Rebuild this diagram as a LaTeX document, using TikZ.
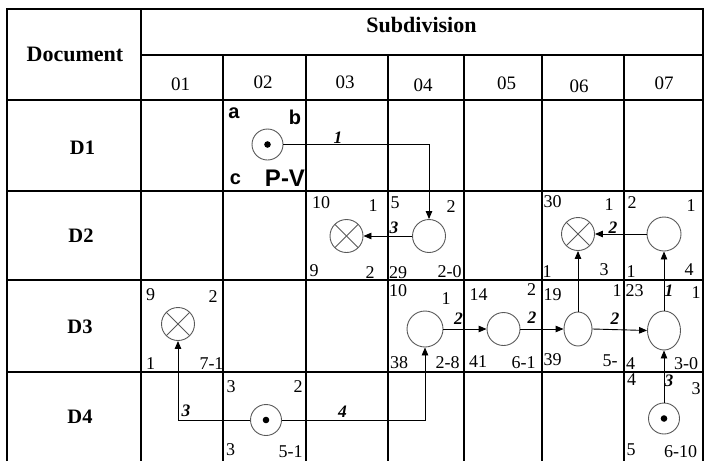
\documentclass[tikz,border=0pt]{standalone}
\usepackage{fontspec}
\setmainfont{Liberation Serif}
\newfontfamily\sansbf{Liberation Sans}
\usetikzlibrary{arrows.meta,shapes.geometric}
\tikzset{
  gridline/.style={line width=1.1pt, black},
  hdr/.style={font=\fontsize{22}{24}\selectfont\bfseries, inner sep=0pt},
  rowlab/.style={font=\fontsize{20.5}{22}\selectfont\bfseries, inner sep=0pt},
  colnum/.style={font=\fontsize{19}{21}\selectfont, inner sep=0pt},
  num/.style={font=\fontsize{18}{19}\selectfont, inner sep=0pt},
  lab/.style={font=\fontsize{17.5}{19}\selectfont\bfseries\itshape, inner sep=0pt},
  sl/.style={font=\fontsize{20}{22}\selectfont\sansbf\bfseries, inner sep=0pt},
  ev/.style={ellipse, draw=black!65, line width=0.9pt, inner sep=0pt, minimum width=33pt, minimum height=33pt},
  xev/.style={ev, path picture={
      \draw[black!65, line width=0.9pt] (path picture bounding box.south west) -- (path picture bounding box.north east);
      \draw[black!65, line width=0.9pt] (path picture bounding box.north west) -- (path picture bounding box.south east);}},
  sev/.style={ev, minimum width=31pt, minimum height=31pt, path picture={
      \fill[black] (path picture bounding box.center) circle (3.3pt);}},
  arr/.style={-{Triangle[length=8pt,width=6.5pt]}, line width=0.9pt, black}
}
\begin{document}
\begin{tikzpicture}[x=1pt,y=-1pt]
\useasboundingbox (0,0) rectangle (704,461);
\clip (0,0) rectangle (704,461);
% grid
\draw[gridline] (7,461) -- (7,9) -- (703,9) -- (703,461);
\draw[gridline] (141,9) -- (141,461);
\draw[gridline] (141,55) -- (703,55);
\foreach \yy in {100,191,280,372} \draw[gridline] (7,\yy) -- (703,\yy);
\foreach \xx in {223,306,388,464,542,624} \draw[gridline] (\xx,55) -- (\xx,461);
% headers
\node[hdr] (hdoc) at (75,54.5) {Document};
\node[hdr] (hsub) at (421.5,24.5) {Subdivision};
\node[colnum] (c01) at (180.5,84.5) {01};
\node[colnum] (c02) at (263,82.5) {02};
\node[colnum] (c03) at (345,82.5) {03};
\node[colnum] (c04) at (423,85) {04};
\node[colnum] (c05) at (506.5,83.5) {05};
\node[colnum] (c06) at (579,86.5) {06};
\node[colnum] (c07) at (664,83) {07};
\node[rowlab] (r1) at (82.5,148) {D1};
\node[rowlab] (r2) at (81,235.5) {D2};
\node[rowlab] (r3) at (80,327) {D3};
\node[rowlab] (r4) at (80,417) {D4};
% D1 / 02 legend cell
\node[sl] (la) at (234,113.5) {a};
\node[sl] (lb) at (295,117) {b};
\node[sl] (lc) at (235.5,179) {c};
\node[sl, font=\fontsize{24}{26}\selectfont\sansbf\bfseries] (lpv) at (285,178.5) {P-V};
\node[sev] (s12) at (267.5,144.5) {};
% D2 events
\node[xev] (x23) at (346.5,236) {};
\node[ev] (e24) at (429,236) {};
\node[xev] (x26) at (578,234) {};
\node[ev, minimum width=34pt, minimum height=34pt] (e27) at (664,234) {};
% D3 events
\node[xev] (x31) at (178,324) {};
\node[ev, minimum width=36pt, minimum height=36pt] (e34) at (425,329) {};
\node[ev, minimum width=33pt, minimum height=33pt] (e35) at (503.5,329) {};
\node[ev, minimum width=28pt, minimum height=34pt] (e36) at (578,329) {};
\node[ev, minimum width=33pt, minimum height=39pt] (e37) at (664,330.5) {};
% D4 events
\node[sev] (s42) at (266,420) {};
\node[sev] (s47) at (664,418.5) {};
% connectors
\draw[arr] (s12.east) -| (e24.north);
\draw[arr] (e24.west) -- (x23.east);
\draw[arr] (e27.west) -- (x26.east);
\draw[arr] (e36.north) -- (x26.south);
\draw[arr] (e37.north) -- (e27.south);
\draw[arr] (e34.east) -- (e35.west);
\draw[arr] (e35.east) -- (e36.west);
\draw[arr] (e36.east) -- (e37.west);
\draw[arr] (s42.west) -| (x31.south);
\draw[arr] (s42.east) -| (e34.south);
\draw[arr] (s47.north) -- (e37.south);
% connector labels
\node[lab] (l1) at (338,137.5) {1};
\node[lab] (l2) at (394,228) {3};
\node[lab] (l3) at (613,227.5) {2};
\node[lab] (l4) at (458.5,319) {2};
\node[lab] (l5) at (532,317.5) {2};
\node[lab] (l6) at (615,319) {2};
\node[lab] (l7) at (669,291) {1};
\node[lab] (l8) at (186,411) {3};
\node[lab] (l9) at (342.5,412) {4};
\node[lab] (l10) at (669,381) {3};
% corner numbers D2/03
\node[num] (a1) at (321,202.5) {10};
\node[num] (a2) at (373,206) {1};
\node[num] (a3) at (314,271) {9};
\node[num] (a4) at (370,273) {2};
% D2/04
\node[num] (b1) at (395,203) {5};
\node[num] (b2) at (451,207) {2};
\node[num] (b3) at (398,273) {29};
\node[num] (b4) at (449.5,272) {2-0};
% D2/06
\node[num] (f1) at (552.5,202) {30};
\node[num] (f2) at (609,205) {1};
\node[num] (f3) at (547,272) {1};
\node[num] (f4) at (604,270) {3};
% D2/07
\node[num] (g1) at (632,203) {2};
\node[num] (g2) at (691,206) {1};
\node[num] (g3) at (631,272) {1};
\node[num] (g4) at (689,270) {4};
% D3/01
\node[num] (h1) at (150.5,295) {9};
\node[num] (h2) at (213,297) {2};
\node[num] (h3) at (150.5,363.5) {1};
\node[num] (h4) at (211.5,363.5) {7-1};
% D3/04
\node[num] (i1) at (398,291) {10};
\node[num] (i2) at (446,299) {1};
\node[num] (i3) at (399,363) {38};
\node[num] (i4) at (447.5,363) {2-8};
% D3/05
\node[num] (j1) at (478.5,295) {14};
\node[num] (j2) at (531.5,290) {2};
\node[num] (j3) at (478,362) {41};
\node[num] (j4) at (523.5,363) {6-1};
% D3/06
\node[num] (k1) at (552.5,295) {19};
\node[num] (k2) at (617,291) {1};
\node[num] (k3) at (552.5,360) {39};
\node[num] (k4) at (610,361) {5-};
% D3/07
\node[num] (m1) at (634.5,291) {23};
\node[num] (m2) at (696,293) {1};
\node[num] (m3) at (630.5,364) {4};
\node[num] (m4) at (686,364) {3-0};
% D4/02
\node[num] (n1) at (231,387) {3};
\node[num] (n2) at (298,387) {2};
\node[num] (n3) at (230.5,450) {3};
\node[num] (n4) at (290.5,451.5) {5-1};
% D4/07
\node[num] (o1) at (631.5,380) {4};
\node[num] (o2) at (696,389) {3};
\node[num] (o3) at (631,450) {5};
\node[num] (o4) at (680.5,451.5) {6-10};
\end{tikzpicture}
\end{document}
